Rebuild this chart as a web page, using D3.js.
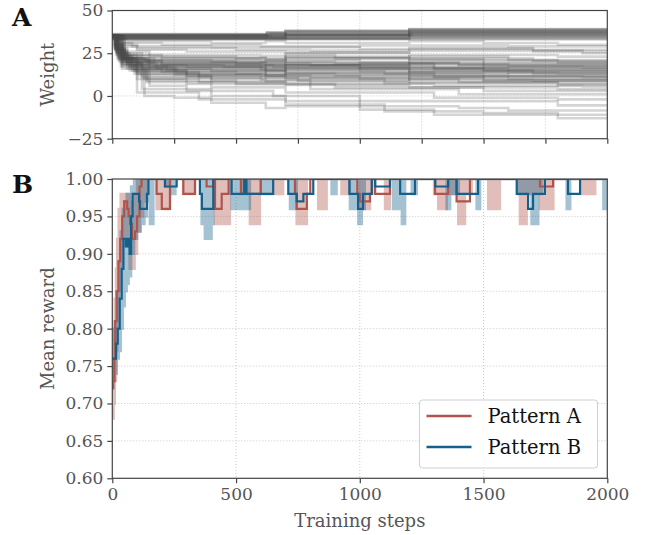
<!DOCTYPE html>
<html>
<head>
<meta charset="utf-8">
<script src="https://cdn.jsdelivr.net/npm/d3@7"></script>
<style>
  body { margin: 0; background: #fff; }
  svg { display: block; }
  text { font-family: "DejaVu Serif", serif; }
</style>
</head>
<body>
<div id="chart"></div>
<script>
// ---- data ----
var xTicksA = [0, 250, 500, 750, 1000, 1250, 1500, 1750, 2000];
var xTicksB = [0, 500, 1000, 1500, 2000];
var yTicksA = [-25, 0, 25, 50];
var yTicksB = [0.60, 0.65, 0.70, 0.75, 0.80, 0.85, 0.90, 0.95, 1.00];

// weights: each line is [step, value] break points (step-after)
var weightsTop = [
  [[0,36],[625,37],[700,38],[1200,39],[2000,39]],
  [[0,36.2],[625,37.2],[700,38.2],[1200,39.2],[2000,39.2]],
  [[0,36],[700,37.5],[1200,38.5],[2000,38.5]],
  [[0,35.8],[625,36.8],[700,37.8],[1200,38.6],[2000,38.6]],
  [[0,35.5],[640,36.5],[1200,38],[2000,38]],
  [[0,35.5],[700,36.8],[1200,37.8],[2000,37.8]],
  [[0,35],[700,36],[1210,37.5],[2000,37.5]],
  [[0,35.2],[625,36.2],[1200,37.2],[2000,37.2]],
  [[0,35],[1200,37],[2000,37]],
  [[0,34.8],[700,35.8],[1200,36.8],[2000,36.8]],
  [[0,34.5],[700,35.5],[1200,36.5],[2000,36.5]],
  [[0,34.5],[625,35.5],[1200,36],[2000,36]],
  [[0,34.2],[700,35.2],[1200,36],[2000,36]],
  [[0,34],[1200,35.5],[2000,35.5]],
  [[0,34],[700,35],[2000,35]],
  [[0,33.8],[1200,35],[2000,35]],
  [[0,33.5],[1200,34.5],[2000,34.5]],
  [[0,33.5],[2000,33.5]],
  [[0,33.2],[700,34],[2000,34]],
  [[0,33],[2000,33]]
];
var weightsUpper = [
  [[0,35],[20,33],[60,32],[400,31],[620,32],[700,31],[1200,32],[1500,31],[1800,30],[2000,30]],
  [[0,35],[30,31],[200,30],[600,29],[1000,29.5],[1600,29],[2000,28.5]],
  [[0,35],[25,30],[100,28],[500,27],[800,26.5],[1200,28],[1700,26],[2000,26]],
  [[0,35],[20,29],[100,27],[300,26],[700,25.5],[1200,26.5],[1900,25],[2000,25]],
  [[0,35],[15,31],[80,29],[400,28.5],[1000,27.5],[1700,27],[2000,27]]
];
var weightsMid = [
  [[0,35],[15,30],[40,25],[120,23],[500,22],[700,24],[900,22],[1200,23],[1600,21],[2000,21]],
  [[0,35],[20,28],[60,24],[200,22],[620,21],[700,22.5],[1200,21.5],[1500,20],[2000,20]],
  [[0,35],[10,30],[40,24],[100,21],[400,20],[700,21],[1000,19.5],[1400,18.5],[2000,18.5]],
  [[0,35],[15,28],[50,22],[150,20],[500,19],[800,18],[1200,19],[1500,17],[1900,16.5],[2000,16.5]],
  [[0,35],[10,28],[40,21],[100,18.5],[600,18],[1200,17.5],[1300,16.5],[2000,16]],
  [[0,35],[20,27],[60,20],[200,18],[450,17],[700,18],[1000,16],[1600,15],[2000,15]],
  [[0,35],[10,29],[35,22],[80,18],[300,17],[620,15],[700,17],[1200,15],[1700,14],[2000,14]],
  [[0,35],[15,26],[50,19],[150,16.5],[600,15.5],[1000,14.5],[1600,13.5],[2000,13.5]],
  [[0,35],[12,27],[45,19],[120,16],[400,14.5],[700,15.5],[1200,13.5],[1800,13],[2000,13]],
  [[0,35],[20,25],[70,17],[250,15],[620,13],[700,14.5],[1100,13],[1500,12],[2000,12]],
  [[0,35],[15,24],[60,16],[200,14],[500,13],[900,12],[1300,11.5],[1900,11],[2000,11]],
  [[0,35],[25,23],[80,15],[300,13],[620,11],[700,12.5],[1200,11],[1600,10],[2000,10]],
  [[0,35],[20,22],[70,15],[250,12.5],[600,11.5],[1000,10],[1500,9.5],[2000,9.5]],
  [[0,35],[30,22],[100,14],[350,12],[700,11],[1200,9.5],[1700,9],[2000,9]],
  [[0,35],[25,21],[90,13],[300,11],[600,9.5],[800,8.5],[1200,10],[1400,8],[2000,7.5]],
  [[0,35],[30,20],[110,12],[400,10],[620,8.5],[700,10],[1100,7.5],[1800,6.5],[2000,6.5]],
  [[0,35],[35,19],[120,11],[400,8.5],[800,7],[1300,6],[1900,5.5],[2000,5.5]],
  [[0,35],[40,18],[130,10],[350,8],[700,6.5],[1200,5],[1800,4],[2000,4]],
  [[0,35],[35,17],[140,9],[500,7],[900,5],[1500,3],[2000,2.5]],
  [[0,35],[15,27],[50,21],[150,19],[500,18.5],[1200,20],[1500,19],[2000,19]],
  [[0,35],[10,30],[40,26],[150,24],[600,23.5],[700,25],[1200,24],[1800,23],[2000,23]],
  [[0,35],[20,25],[60,18],[150,17],[620,16],[700,18],[1000,17],[1300,15.5],[2000,15.5]],
  [[0,35],[12,29],[40,24],[150,22.5],[620,21.5],[700,23],[1200,22],[1700,20.5],[2000,20.5]],
  [[0,35],[15,27],[45,22],[130,20.5],[500,20],[900,19],[1400,18],[2000,17.5]],
  [[0,35],[10,28],[35,23],[110,19.5],[620,18.5],[700,20],[1200,18.5],[1600,17.5],[2000,17.5]],
  [[0,35],[18,26],[55,20],[160,17.5],[600,16.5],[1000,16],[1500,15.5],[2000,15]],
  [[0,35],[20,25],[60,19],[180,16],[620,14.5],[700,16],[1200,14],[1700,13],[2000,12.5]],
  [[0,35],[22,24],[70,17.5],[220,15],[700,13.5],[1200,12.5],[1600,11.5],[2000,11.5]],
  [[0,35],[25,23],[80,16],[260,13.5],[620,12],[700,13.5],[1300,11],[2000,10.5]],
  [[0,35],[28,22],[90,14.5],[300,12],[800,10.5],[1200,11.5],[1500,9],[2000,8.5]],
  [[0,35],[30,21],[100,13],[350,10.5],[750,9],[1200,8],[1800,7],[2000,7]],
  [[0,35],[12,28],[40,23],[120,21],[600,20.5],[700,22],[1200,21],[1800,19.5],[2000,19.5]],
  [[0,35],[18,26],[60,21],[200,19],[620,17.5],[700,19],[1300,17],[2000,16]],
  [[0,35],[15,27],[50,22],[170,18],[650,17],[1200,16.5],[1500,14.5],[2000,14]]
];
var weightsLow = [
  [[0,35],[40,16],[130,0],[250,-1],[400,-4],[620,-7],[700,-6],[1000,-8],[1300,-11],[1800,-13],[2000,-13]],
  [[0,35],[40,18],[100,2],[350,-2],[700,-5],[1100,-9],[1500,-10],[1800,-11],[2000,-11]],
  [[0,35],[40,20],[120,4],[400,0],[700,-3],[1000,-6],[1400,-7],[1600,-8.5],[2000,-8.5]],
  [[0,35],[50,20],[150,6],[300,3],[650,0],[1000,-3],[1800,-5.5],[2000,-5.5]],
  [[0,35],[45,22],[140,8],[400,5],[700,2],[1300,-1],[1800,-2],[2000,-2]],
  [[0,35],[50,22],[100,10],[300,7],[800,4],[1400,1],[2000,0.5]]
];

// smoothed mean reward, [step, value] (step-after)
var smoothA = [[0,0.72],[4,0.73],[8,0.76],[12,0.81],[18,0.85],[25,0.89],[32,0.92],[40,0.95],[48,0.97],
  [60,0.96],[66,0.95],[72,0.94],[80,0.92],[92,0.93],[100,0.95],[110,0.99],[118,1.0],[179,0.98],[200,0.96],
  [233,1.0],[287,0.98],[334,1.0],[381,0.99],[408,1.0],[415,0.96],[442,0.98],[470,1.0],[520,0.98],[600,1.0],
  [738,0.98],[745,0.96],[786,0.98],[800,1.0],[990,0.98],[1000,0.97],[1041,0.98],[1050,1.0],[1062,0.98],[1122,1.0],
  [1304,0.98],[1357,1.0],[1391,0.97],[1445,1.0],[1728,0.99],[1781,1.0],[2000,1.0]];
var smoothB = [[0,0.76],[15,0.78],[22,0.80],[30,0.84],[38,0.88],[45,0.92],[55,0.91],[62,0.92],[70,0.90],
  [76,0.95],[82,0.98],[108,0.97],[112,0.96],[140,0.98],[146,1.0],[213,0.99],[260,1.0],[354,0.98],[362,0.96],
  [408,1.0],[482,0.98],[533,1.0],[542,0.98],[650,1.0],[711,0.98],[745,0.97],[772,0.98],[812,1.0],[958,0.98],
  [993,0.96],[1013,0.98],[1048,1.0],[1062,0.99],[1122,1.0],[1163,0.98],[1223,1.0],[1305,0.99],[1357,1.0],
  [1391,0.98],[1478,1.0],[1634,0.98],[1680,0.96],[1700,0.98],[1748,1.0],[1841,0.98],[1890,1.0],[2000,1.0]];

// raw reward envelopes, [step, low, high] (step-after)
var rawA = [[0,0.68,0.76],[5,0.70,0.80],[10,0.73,0.84],[15,0.77,0.88],[20,0.81,0.92],[26,0.85,0.96],
  [34,0.88,0.98],[42,0.92,0.98],[52,0.93,0.98],[60,0.91,0.98],[70,0.88,0.97],[80,0.88,0.96],[90,0.90,0.98],
  [100,0.93,1],[112,0.95,1],[125,0.97,1],[140,1,1],[179,0.96,1],[233,1,1],[287,0.98,1],[334,1,1],
  [415,0.94,1],[475,1,1],[520,0.98,1],[550,1,1],[556,0.94,1],[596,1,1],[650,0.98,1],[690,1,1],
  [745,0.94,1],[786,1,1],[832,0.96,1],[866,1,1],[926,0.98,1],[960,1,1],[1000,0.96,1],[1041,1,1],
  [1102,0.96,1],[1122,1,1],[1300,0.98,1],[1317,0.96,1],[1351,0.98,1],[1398,0.94,1],[1425,0.98,1],
  [1452,1,1],[1519,0.96,1],[1566,1,1],[1640,0.98,1],[1647,0.94,1],[1674,0.98,1],[1728,0.96,1],
  [1782,1,1],[1890,0.98,1],[1951,1,1],[2000,1,1]];
var rawB = [[0,0.73,0.80],[10,0.74,0.81],[18,0.76,0.85],[26,0.77,0.89],[34,0.80,0.93],[42,0.83,0.96],
  [50,0.85,0.97],[58,0.86,0.98],[66,0.87,0.98],[76,0.90,0.99],[88,0.92,1],[100,0.93,1],[115,0.94,1],
  [130,0.95,1],[140,0.97,1],[152,0.94,1],[166,1,1],[213,0.99,1],[235,0.98,1],[255,1,1],[361,0.94,1],
  [374,0.92,1],[401,0.94,1],[408,1,1],[482,0.96,1],[536,1,1],[543,0.96,1],[556,1,1],[600,0.98,1],
  [640,1,1],[718,0.96,1],[745,1,1],[886,0.98,1],[906,1,1],[960,0.96,1],[994,0.94,1],[1008,0.96,1],
  [1020,1,1],[1135,0.96,1],[1170,0.94,1],[1183,1,1],[1210,0.98,1],[1230,1,1],[1351,0.96,1],
  [1365,0.98,1],[1400,1,1],[1472,0.96,1],[1486,1,1],[1640,0.98,1],[1694,0.94,1],[1721,0.98,1],
  [1735,1,1],[1836,0.96,1],[1850,1,1],[1984,0.96,1],[2000,0.96,1]];

var seriesNames = ["Pattern A", "Pattern B"];
var seriesColors = ["#b0544b", "#14608a"];

// ---- layout ----
var width = 648, height = 535;
var left = 112.3, right = 607.3;
var topA = 10.5, bottomA = 138.7;
var topB = 179, bottomB = 478.3;
var axisColor = "#444", tickText = "#555", gridColor = "#c8c8c8";

var svg = d3.select("#chart").append("svg")
  .attr("width", width)
  .attr("height", height);

var x = d3.scaleLinear().domain([0, 2000]).range([left, right]);
var yA = d3.scaleLinear().domain([-25, 50]).range([bottomA, topA]);
var yB = d3.scaleLinear().domain([0.6, 1.0]).range([bottomB, topB]);

var defs = svg.append("defs");
defs.append("clipPath").attr("id", "clipA").append("rect")
  .attr("x", left).attr("y", topA).attr("width", right - left).attr("height", bottomA - topA);
defs.append("clipPath").attr("id", "clipB").append("rect")
  .attr("x", left).attr("y", topB).attr("width", right - left).attr("height", bottomB - topB);

// grid lines (dotted)
function drawGrid(xs, ys, yScale, top, bottom) {
  var g = svg.append("g").attr("stroke", gridColor).attr("stroke-width", 1).attr("stroke-dasharray", "1,2");
  g.selectAll(".gx").data(xs).enter().append("line")
    .attr("x1", d => x(d)).attr("x2", d => x(d))
    .attr("y1", top).attr("y2", bottom);
  g.selectAll(".gy").data(ys).enter().append("line")
    .attr("x1", left).attr("x2", right)
    .attr("y1", d => yScale(d)).attr("y2", d => yScale(d));
}
drawGrid(xTicksA.slice(1, -1), [0, 25], yA, topA, bottomA);
drawGrid(xTicksB.slice(1, -1), yTicksB.slice(1, -1), yB, topB, bottomB);

// ---- panel A: weight traces ----
var weightLine = d3.line()
  .x(d => x(d[0]))
  .y(d => yA(d[1]))
  .curve(d3.curveStepAfter);

var allWeights = weightsLow.concat(weightsMid, weightsUpper, weightsTop);
svg.append("g").attr("clip-path", "url(#clipA)")
  .selectAll("path")
  .data(allWeights)
  .enter()
  .append("path")
  .attr("d", weightLine)
  .attr("fill", "none")
  .attr("stroke", "#4a4a4a")
  .attr("stroke-width", 2.6)
  .attr("stroke-opacity", 0.24);

// ---- panel B: rewards ----
var rawArea = d3.area()
  .x(d => x(d[0]))
  .y0(d => yB(d[1]))
  .y1(d => yB(d[2]))
  .curve(d3.curveStepAfter);

var smoothLine = d3.line()
  .x(d => x(d[0]))
  .y(d => yB(d[1]))
  .curve(d3.curveStepAfter);

var gB = svg.append("g").attr("clip-path", "url(#clipB)");
[rawA, rawB].forEach(function(raw, i) {
  gB.append("path")
    .attr("d", rawArea(raw))
    .attr("fill", seriesColors[i])
    .attr("stroke", seriesColors[i])
    .attr("stroke-width", 2.5)
    .attr("opacity", 0.38);
});
[smoothA, smoothB].forEach(function(s, i) {
  gB.append("path")
    .attr("d", smoothLine(s))
    .attr("fill", "none")
    .attr("stroke", seriesColors[i])
    .attr("stroke-width", 2.2);
});

// ---- axes / frames ----
function frame(top, bottom) {
  svg.append("rect")
    .attr("x", left).attr("y", top)
    .attr("width", right - left).attr("height", bottom - top)
    .attr("fill", "none").attr("stroke", axisColor).attr("stroke-width", 1.2);
}
frame(topA, bottomA);
frame(topB, bottomB);

function styleAxis(g) {
  g.select(".domain").remove();
  g.selectAll(".tick line").attr("stroke", axisColor).attr("stroke-width", 1.2);
  g.selectAll(".tick text").attr("fill", tickText).attr("font-size", 17)
    .attr("font-family", "DejaVu Serif, serif");
}

svg.append("g")
  .attr("transform", "translate(0," + bottomA + ")")
  .call(d3.axisBottom(x).tickValues(xTicksA).tickSize(5).tickFormat(""))
  .call(styleAxis);
svg.append("g")
  .attr("transform", "translate(" + left + ",0)")
  .call(d3.axisLeft(yA).tickValues(yTicksA).tickSize(5).tickPadding(4)
    .tickFormat(d => d < 0 ? "\u2212" + Math.abs(d) : d))
  .call(styleAxis);

svg.append("g")
  .attr("transform", "translate(0," + bottomB + ")")
  .call(d3.axisBottom(x).tickValues(xTicksB).tickSize(5).tickPadding(5).tickFormat(d3.format("d")))
  .call(styleAxis);
svg.append("g")
  .attr("transform", "translate(" + left + ",0)")
  .call(d3.axisLeft(yB).tickValues(yTicksB).tickSize(5).tickPadding(4).tickFormat(d3.format(".2f")))
  .call(styleAxis);

// axis labels
svg.append("text")
  .attr("transform", "translate(54," + ((topA + bottomA) / 2) + ") rotate(-90)")
  .attr("text-anchor", "middle").attr("fill", tickText).attr("font-size", 18)
  .text("Weight");
svg.append("text")
  .attr("transform", "translate(54," + ((topB + bottomB) / 2) + ") rotate(-90)")
  .attr("text-anchor", "middle").attr("fill", tickText).attr("font-size", 18)
  .text("Mean reward");
svg.append("text")
  .attr("x", (left + right) / 2).attr("y", 527)
  .attr("text-anchor", "middle").attr("fill", tickText).attr("font-size", 18)
  .text("Training steps");

// panel letters
svg.append("text").attr("x", 12).attr("y", 26)
  .attr("font-family", "Liberation Serif, serif").attr("font-weight", "bold")
  .attr("font-size", 25).attr("fill", "#111").text("A");
svg.append("text").attr("x", 12).attr("y", 193)
  .attr("font-family", "Liberation Serif, serif").attr("font-weight", "bold")
  .attr("font-size", 25).attr("fill", "#111").text("B");

// legend
var legend = svg.append("g").attr("transform", "translate(419.5,400)");
legend.append("rect")
  .attr("width", 178).attr("height", 68).attr("rx", 3)
  .attr("fill", "#fff").attr("fill-opacity", 0.85)
  .attr("stroke", "#d0d0d0").attr("stroke-width", 1);
seriesNames.forEach(function(name, i) {
  legend.append("line")
    .attr("x1", 7).attr("x2", 52)
    .attr("y1", 16 + i * 31).attr("y2", 16 + i * 31)
    .attr("stroke", seriesColors[i]).attr("stroke-width", 2.5);
  legend.append("text")
    .attr("x", 68).attr("y", 23 + i * 31)
    .attr("font-size", 19.5).attr("fill", "#111")
    .text(name);
});
</script>
</body>
</html>
